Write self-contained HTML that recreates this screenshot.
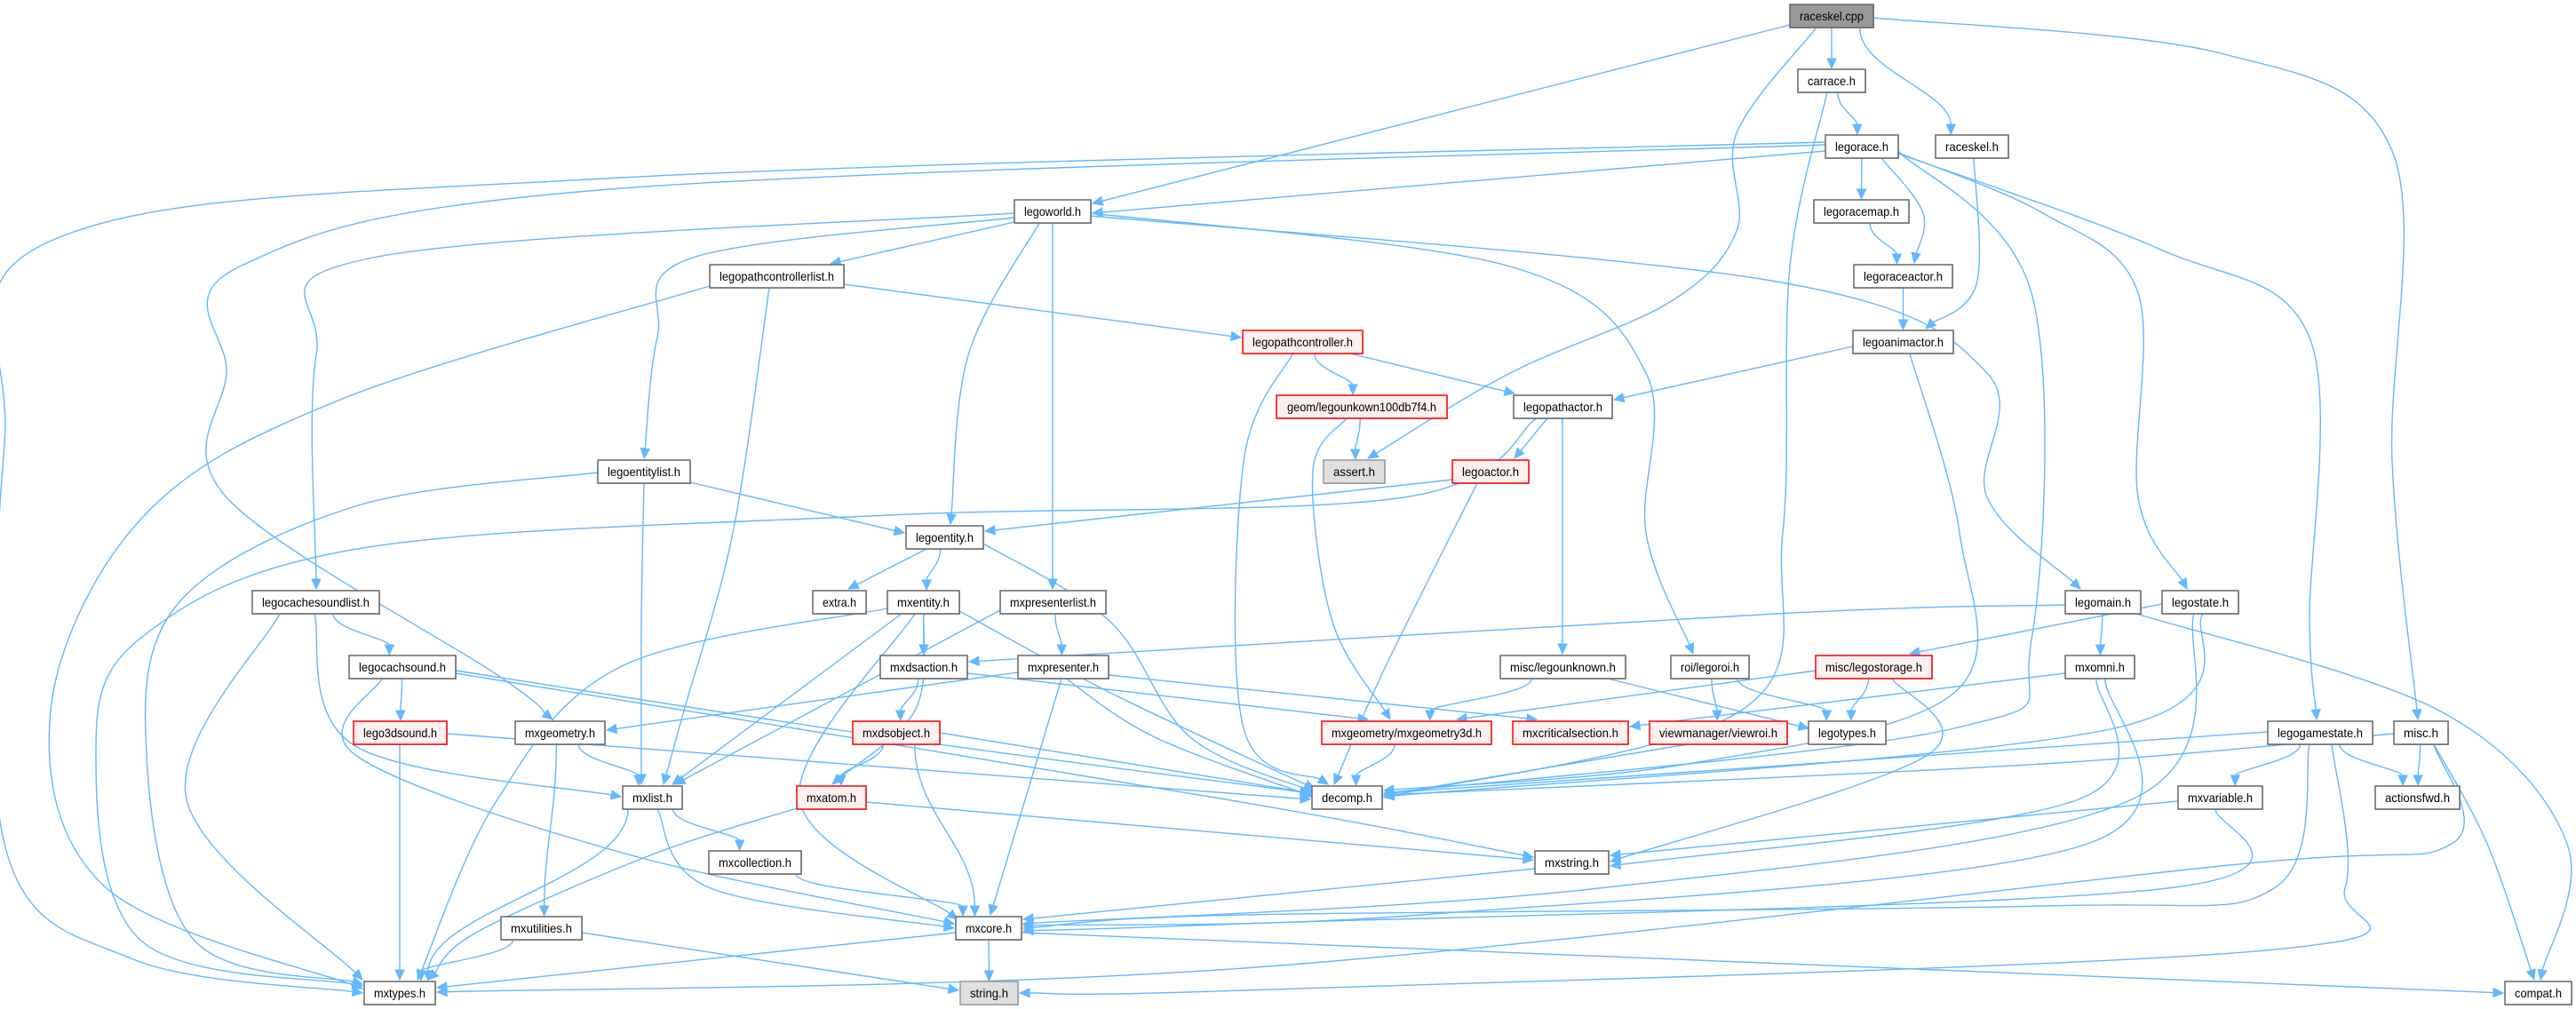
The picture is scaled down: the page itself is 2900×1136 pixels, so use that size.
<!DOCTYPE html>
<html><head><meta charset="utf-8"><style>
html,body{margin:0;padding:0;background:#fff;}
svg{display:block}
text{font-family:"Liberation Sans",Arial,sans-serif;font-size:14px;fill:#000}
</style></head><body>
<svg id="g" width="2900" height="1136" viewBox="0 0 2900 1136" xmlns="http://www.w3.org/2000/svg">
<g id="edges"></g>
<g id="shadows"></g>
<g id="nodes">
<rect x="2015" y="5" width="94" height="26" fill="#999" stroke="#666" stroke-width="1.5"/><text x="2062" y="23" text-anchor="middle" textLength="72" lengthAdjust="spacingAndGlyphs">raceskel.cpp</text>
<rect x="2024" y="78" width="76" height="26" fill="#fff" stroke="#666" stroke-width="1.5"/><text x="2062" y="96" text-anchor="middle" textLength="54" lengthAdjust="spacingAndGlyphs">carrace.h</text>
<rect x="2055" y="152" width="82" height="26" fill="#fff" stroke="#666" stroke-width="1.5"/><text x="2096" y="170" text-anchor="middle" textLength="60" lengthAdjust="spacingAndGlyphs">legorace.h</text>
<rect x="2179" y="152" width="82" height="26" fill="#fff" stroke="#666" stroke-width="1.5"/><text x="2220" y="170" text-anchor="middle" textLength="60" lengthAdjust="spacingAndGlyphs">raceskel.h</text>
<rect x="1142" y="225" width="86" height="26" fill="#fff" stroke="#666" stroke-width="1.5"/><text x="1185" y="243" text-anchor="middle" textLength="64" lengthAdjust="spacingAndGlyphs">legoworld.h</text>
<rect x="2042" y="225" width="107" height="26" fill="#fff" stroke="#666" stroke-width="1.5"/><text x="2095.5" y="243" text-anchor="middle" textLength="85" lengthAdjust="spacingAndGlyphs">legoracemap.h</text>
<rect x="799" y="298" width="151" height="26" fill="#fff" stroke="#666" stroke-width="1.5"/><text x="874.5" y="316" text-anchor="middle" textLength="129" lengthAdjust="spacingAndGlyphs">legopathcontrollerlist.h</text>
<rect x="2087" y="298" width="111" height="26" fill="#fff" stroke="#666" stroke-width="1.5"/><text x="2142.5" y="316" text-anchor="middle" textLength="89" lengthAdjust="spacingAndGlyphs">legoraceactor.h</text>
<rect x="1399" y="372" width="135" height="26" fill="#fff0f0" stroke="#f00" stroke-width="1.5"/><text x="1466.5" y="390" text-anchor="middle" textLength="113" lengthAdjust="spacingAndGlyphs">legopathcontroller.h</text>
<rect x="2086" y="372" width="113" height="26" fill="#fff" stroke="#666" stroke-width="1.5"/><text x="2142.5" y="390" text-anchor="middle" textLength="91" lengthAdjust="spacingAndGlyphs">legoanimactor.h</text>
<rect x="1437" y="445" width="192" height="26" fill="#fff0f0" stroke="#f00" stroke-width="1.5"/><text x="1533" y="463" text-anchor="middle" textLength="168" lengthAdjust="spacingAndGlyphs">geom/legounkown100db7f4.h</text>
<rect x="1704" y="445" width="111" height="26" fill="#fff" stroke="#666" stroke-width="1.5"/><text x="1759.5" y="463" text-anchor="middle" textLength="89" lengthAdjust="spacingAndGlyphs">legopathactor.h</text>
<rect x="673" y="518" width="104" height="26" fill="#fff" stroke="#666" stroke-width="1.5"/><text x="725" y="536" text-anchor="middle" textLength="82" lengthAdjust="spacingAndGlyphs">legoentitylist.h</text>
<rect x="1490" y="518" width="69" height="26" fill="#e0e0e0" stroke="#999" stroke-width="1.5"/><text x="1524.5" y="536" text-anchor="middle" textLength="47" lengthAdjust="spacingAndGlyphs">assert.h</text>
<rect x="1635" y="518" width="86" height="26" fill="#fff0f0" stroke="#f00" stroke-width="1.5"/><text x="1678" y="536" text-anchor="middle" textLength="64" lengthAdjust="spacingAndGlyphs">legoactor.h</text>
<rect x="1020" y="592" width="87" height="26" fill="#fff" stroke="#666" stroke-width="1.5"/><text x="1063.5" y="610" text-anchor="middle" textLength="65" lengthAdjust="spacingAndGlyphs">legoentity.h</text>
<rect x="284" y="665" width="143" height="26" fill="#fff" stroke="#666" stroke-width="1.5"/><text x="355.5" y="683" text-anchor="middle" textLength="121" lengthAdjust="spacingAndGlyphs">legocachesoundlist.h</text>
<rect x="915" y="665" width="60" height="26" fill="#fff" stroke="#666" stroke-width="1.5"/><text x="945" y="683" text-anchor="middle" textLength="38" lengthAdjust="spacingAndGlyphs">extra.h</text>
<rect x="999" y="665" width="81" height="26" fill="#fff" stroke="#666" stroke-width="1.5"/><text x="1039.5" y="683" text-anchor="middle" textLength="59" lengthAdjust="spacingAndGlyphs">mxentity.h</text>
<rect x="1126" y="665" width="119" height="26" fill="#fff" stroke="#666" stroke-width="1.5"/><text x="1185.5" y="683" text-anchor="middle" textLength="97" lengthAdjust="spacingAndGlyphs">mxpresenterlist.h</text>
<rect x="2325" y="665" width="85" height="26" fill="#fff" stroke="#666" stroke-width="1.5"/><text x="2367.5" y="683" text-anchor="middle" textLength="63" lengthAdjust="spacingAndGlyphs">legomain.h</text>
<rect x="2434" y="665" width="86" height="26" fill="#fff" stroke="#666" stroke-width="1.5"/><text x="2477" y="683" text-anchor="middle" textLength="64" lengthAdjust="spacingAndGlyphs">legostate.h</text>
<rect x="393" y="738" width="120" height="26" fill="#fff" stroke="#666" stroke-width="1.5"/><text x="453" y="756" text-anchor="middle" textLength="98" lengthAdjust="spacingAndGlyphs">legocachsound.h</text>
<rect x="991" y="738" width="98" height="26" fill="#fff" stroke="#666" stroke-width="1.5"/><text x="1040" y="756" text-anchor="middle" textLength="76" lengthAdjust="spacingAndGlyphs">mxdsaction.h</text>
<rect x="1146" y="738" width="102" height="26" fill="#fff" stroke="#666" stroke-width="1.5"/><text x="1197" y="756" text-anchor="middle" textLength="80" lengthAdjust="spacingAndGlyphs">mxpresenter.h</text>
<rect x="1689" y="738" width="141" height="26" fill="#fff" stroke="#666" stroke-width="1.5"/><text x="1759.5" y="756" text-anchor="middle" textLength="119" lengthAdjust="spacingAndGlyphs">misc/legounknown.h</text>
<rect x="1881" y="738" width="88" height="26" fill="#fff" stroke="#666" stroke-width="1.5"/><text x="1925" y="756" text-anchor="middle" textLength="66" lengthAdjust="spacingAndGlyphs">roi/legoroi.h</text>
<rect x="2044" y="738" width="131" height="26" fill="#fff0f0" stroke="#f00" stroke-width="1.5"/><text x="2109.5" y="756" text-anchor="middle" textLength="109" lengthAdjust="spacingAndGlyphs">misc/legostorage.h</text>
<rect x="2325" y="738" width="78" height="26" fill="#fff" stroke="#666" stroke-width="1.5"/><text x="2364" y="756" text-anchor="middle" textLength="56" lengthAdjust="spacingAndGlyphs">mxomni.h</text>
<rect x="398" y="812" width="105" height="26" fill="#fff0f0" stroke="#f00" stroke-width="1.5"/><text x="450.5" y="830" text-anchor="middle" textLength="83" lengthAdjust="spacingAndGlyphs">lego3dsound.h</text>
<rect x="580" y="812" width="101" height="26" fill="#fff" stroke="#666" stroke-width="1.5"/><text x="630.5" y="830" text-anchor="middle" textLength="79" lengthAdjust="spacingAndGlyphs">mxgeometry.h</text>
<rect x="960" y="812" width="98" height="26" fill="#fff0f0" stroke="#f00" stroke-width="1.5"/><text x="1009" y="830" text-anchor="middle" textLength="76" lengthAdjust="spacingAndGlyphs">mxdsobject.h</text>
<rect x="1488" y="812" width="191" height="26" fill="#fff0f0" stroke="#f00" stroke-width="1.5"/><text x="1583.5" y="830" text-anchor="middle" textLength="169" lengthAdjust="spacingAndGlyphs">mxgeometry/mxgeometry3d.h</text>
<rect x="1703" y="812" width="130" height="26" fill="#fff0f0" stroke="#f00" stroke-width="1.5"/><text x="1768" y="830" text-anchor="middle" textLength="108" lengthAdjust="spacingAndGlyphs">mxcriticalsection.h</text>
<rect x="1857" y="812" width="155" height="26" fill="#fff0f0" stroke="#f00" stroke-width="1.5"/><text x="1934.5" y="830" text-anchor="middle" textLength="133" lengthAdjust="spacingAndGlyphs">viewmanager/viewroi.h</text>
<rect x="2036" y="812" width="87" height="26" fill="#fff" stroke="#666" stroke-width="1.5"/><text x="2079.5" y="830" text-anchor="middle" textLength="65" lengthAdjust="spacingAndGlyphs">legotypes.h</text>
<rect x="2553" y="812" width="118" height="26" fill="#fff" stroke="#666" stroke-width="1.5"/><text x="2612" y="830" text-anchor="middle" textLength="96" lengthAdjust="spacingAndGlyphs">legogamestate.h</text>
<rect x="2695" y="812" width="61" height="26" fill="#fff" stroke="#666" stroke-width="1.5"/><text x="2725.5" y="830" text-anchor="middle" textLength="39" lengthAdjust="spacingAndGlyphs">misc.h</text>
<rect x="701" y="885" width="67" height="26" fill="#fff" stroke="#666" stroke-width="1.5"/><text x="734.5" y="903" text-anchor="middle" textLength="45" lengthAdjust="spacingAndGlyphs">mxlist.h</text>
<rect x="897" y="885" width="78" height="26" fill="#fff0f0" stroke="#f00" stroke-width="1.5"/><text x="936" y="903" text-anchor="middle" textLength="56" lengthAdjust="spacingAndGlyphs">mxatom.h</text>
<rect x="1477" y="885" width="79" height="26" fill="#fff" stroke="#666" stroke-width="1.5"/><text x="1516.5" y="903" text-anchor="middle" textLength="57" lengthAdjust="spacingAndGlyphs">decomp.h</text>
<rect x="2452" y="885" width="95" height="26" fill="#fff" stroke="#666" stroke-width="1.5"/><text x="2499.5" y="903" text-anchor="middle" textLength="73" lengthAdjust="spacingAndGlyphs">mxvariable.h</text>
<rect x="2674" y="885" width="95" height="26" fill="#fff" stroke="#666" stroke-width="1.5"/><text x="2721.5" y="903" text-anchor="middle" textLength="73" lengthAdjust="spacingAndGlyphs">actionsfwd.h</text>
<rect x="798" y="958" width="104" height="26" fill="#fff" stroke="#666" stroke-width="1.5"/><text x="850" y="976" text-anchor="middle" textLength="82" lengthAdjust="spacingAndGlyphs">mxcollection.h</text>
<rect x="1728" y="958" width="83" height="26" fill="#fff" stroke="#666" stroke-width="1.5"/><text x="1769.5" y="976" text-anchor="middle" textLength="61" lengthAdjust="spacingAndGlyphs">mxstring.h</text>
<rect x="564" y="1032" width="91" height="26" fill="#fff" stroke="#666" stroke-width="1.5"/><text x="609.5" y="1050" text-anchor="middle" textLength="69" lengthAdjust="spacingAndGlyphs">mxutilities.h</text>
<rect x="1076" y="1032" width="74" height="26" fill="#fff" stroke="#666" stroke-width="1.5"/><text x="1113" y="1050" text-anchor="middle" textLength="52" lengthAdjust="spacingAndGlyphs">mxcore.h</text>
<rect x="410" y="1105" width="80" height="26" fill="#fff" stroke="#666" stroke-width="1.5"/><text x="450" y="1123" text-anchor="middle" textLength="58" lengthAdjust="spacingAndGlyphs">mxtypes.h</text>
<rect x="1081" y="1105" width="65" height="26" fill="#e0e0e0" stroke="#999" stroke-width="1.5"/><text x="1113.5" y="1123" text-anchor="middle" textLength="43" lengthAdjust="spacingAndGlyphs">string.h</text>
<rect x="2820" y="1105" width="75" height="26" fill="#fff" stroke="#666" stroke-width="1.5"/><text x="2857.5" y="1123" text-anchor="middle" textLength="53" lengthAdjust="spacingAndGlyphs">compat.h</text>
</g>
</svg>
<script>
(function(){
var N={
"raceskel.cpp":[2015,2109,5],"carrace.h":[2024,2100,78],"legorace.h":[2055,2137,152],"raceskel.h":[2179,2261,152],
"legoworld.h":[1142,1228,225],"legoracemap.h":[2042,2149,225],"legopathcontrollerlist.h":[799,950,298],"legoraceactor.h":[2087,2198,298],
"legopathcontroller.h":[1399,1534,372],"legoanimactor.h":[2086,2199,372],"geom":[1437,1629,445],"legopathactor.h":[1704,1815,445],
"legoentitylist.h":[673,777,518],"assert.h":[1490,1559,518],"legoactor.h":[1635,1721,518],"legoentity.h":[1020,1107,592],
"legocachesoundlist.h":[284,427,665],"extra.h":[915,975,665],"mxentity.h":[999,1080,665],"mxpresenterlist.h":[1126,1245,665],
"legomain.h":[2325,2410,665],"legostate.h":[2434,2520,665],"legocachsound.h":[393,513,738],"mxdsaction.h":[991,1089,738],
"mxpresenter.h":[1146,1248,738],"legounknown":[1689,1830,738],"legoroi":[1881,1969,738],"legostorage":[2044,2175,738],
"mxomni.h":[2325,2403,738],"lego3dsound.h":[398,503,812],"mxgeometry.h":[580,681,812],"mxdsobject.h":[960,1058,812],
"mxgeometry3d":[1488,1679,812],"mxcriticalsection.h":[1703,1833,812],"viewroi":[1857,2012,812],"legotypes.h":[2036,2123,812],
"legogamestate.h":[2553,2671,812],"misc.h":[2695,2756,812],"mxlist.h":[701,768,885],"mxatom.h":[897,975,885],
"decomp.h":[1477,1556,885],"mxvariable.h":[2452,2547,885],"actionsfwd.h":[2674,2769,885],"mxcollection.h":[798,902,958],
"mxstring.h":[1728,1811,958],"mxutilities.h":[564,655,1032],"mxcore.h":[1076,1150,1032],"mxtypes.h":[410,490,1105],
"string.h":[1081,1146,1105],"compat.h":[2820,2895,1105]};
var E=[
["raceskel.cpp","legoworld.h",[[2015,28],[1230,229]]],
["raceskel.cpp","assert.h",[[2045,31],[1955,150],[1955,260],[1880,340],[1700,420],[1540,516]]],
["raceskel.cpp","carrace.h"],["raceskel.cpp","raceskel.h"],
["raceskel.cpp","misc.h",[[2109,20],[2500,60],[2693,170],[2693,520],[2722,810]]],
["carrace.h","legorace.h"],
["carrace.h","decomp.h",[[2057,104],[2015,300],[2007,600],[1960,800],[1558,898]]],
["raceskel.h","legoanimactor.h",[[2222,178],[2225,320],[2168,370]]],
["legorace.h","legoworld.h",[[2055,170],[1230,240]]],
["legorace.h","legoracemap.h"],
["legorace.h","legoraceactor.h",[[2118,178],[2165,240],[2155,296]]],
["legoracemap.h","legoraceactor.h"],["legoraceactor.h","legoanimactor.h"],
["legorace.h","mxtypes.h",[[2055,160],[700,200],[60,270],[5,500],[5,950],[150,1080],[408,1118]]],
["legorace.h","mxgeometry.h",[[2055,163],[700,212],[270,300],[255,420],[255,560],[560,760],[622,810]]],
["legorace.h","decomp.h",[[2137,170],[2287,330],[2287,720],[2200,820],[1558,893]]],
["legorace.h","legostate.h",[[2137,172],[2300,240],[2407,330],[2407,560],[2462,663]]],
["legorace.h","legogamestate.h",[[2137,173],[2430,280],[2600,380],[2600,700],[2608,810]]],
["legoanimactor.h","legopathactor.h",[[2086,390],[1817,450]]],
["legoanimactor.h","decomp.h",[[2150,398],[2206,600],[2200,780],[1900,860],[1558,890]]],
["legoworld.h","legopathcontrollerlist.h",[[1142,250],[935,297]]],
["legoworld.h","legocachesoundlist.h",[[1142,240],[420,290],[356,400],[356,663]]],
["legoworld.h","legoentitylist.h",[[1142,245],[780,290],[740,380],[725,516]]],
["legoworld.h","legoentity.h",[[1170,251],[1090,400],[1070,590]]],
["legoworld.h","mxpresenterlist.h",[[1185,251],[1185,663]]],
["legoworld.h","legoroi",[[1228,240],[1700,300],[1853,420],[1853,600],[1906,736]]],
["legoworld.h","legomain.h",[[1228,243],[2000,317],[2237,420],[2237,560],[2342,663]]],
["legopathcontrollerlist.h","legopathcontroller.h",[[950,320],[1397,380]]],
["legopathcontrollerlist.h","mxlist.h",[[866,324],[825,600],[770,800],[747,883]]],
["legopathcontrollerlist.h","mxtypes.h",[[799,322],[383,450],[160,583],[57,800],[120,1000],[408,1113]]],
["legopathcontroller.h","geom"],
["legopathcontroller.h","legopathactor.h",[[1516,397],[1705,443]]],
["legopathcontroller.h","decomp.h",[[1456,397],[1400,520],[1400,820],[1495,883]]],
["geom","assert.h"],
["geom","mxgeometry3d",[[1516,471],[1478,530],[1500,700],[1565,810]]],
["legopathactor.h","legoactor.h",[[1742,471],[1705,516]]],
["legopathactor.h","legounknown",[[1759,471],[1759,736]]],
["legopathactor.h","mxtypes.h",[[1730,471],[1580,560],[1000,580],[408,617],[160,717],[108,850],[160,1060],[408,1110]]],
["legoactor.h","legoentity.h",[[1635,540],[1109,598]]],
["legoactor.h","decomp.h",[[1663,544],[1560,750],[1502,883]]],
["legoentitylist.h","legoentity.h",[[777,543],[1018,600]]],
["legoentitylist.h","mxlist.h",[[725,544],[722,700],[722,883]]],
["legoentitylist.h","mxtypes.h",[[673,532],[400,570],[200,680],[165,850],[220,1060],[408,1108]]],
["legoentity.h","extra.h",[[1043,618],[955,663]]],
["legoentity.h","mxentity.h"],
["legoentity.h","decomp.h",[[1107,612],[1250,700],[1340,830],[1478,892]]],
["legocachesoundlist.h","legocachsound.h"],
["legocachesoundlist.h","mxtypes.h",[[315,691],[210,900],[408,1103]]],
["legocachesoundlist.h","mxlist.h",[[354,691],[400,840],[699,897]]],
["legocachsound.h","lego3dsound.h"],
["legocachsound.h","mxcore.h",[[430,764],[400,850],[700,960],[1074,1040]]],
["legocachsound.h","decomp.h",[[513,755],[1000,830],[1475,893]]],
["legocachsound.h","mxstring.h",[[513,758],[1380,900],[1726,965]]],
["lego3dsound.h","mxtypes.h",[[450,838],[450,1103]]],
["lego3dsound.h","decomp.h",[[503,826],[1475,900]]],
["mxentity.h","mxdsaction.h"],
["mxentity.h","mxatom.h",[[1040,691],[1030,800],[937,883]]],
["mxentity.h","mxcore.h",[[1030,691],[900,900],[1078,1035]]],
["mxentity.h","mxlist.h",[[1015,691],[757,883]]],
["mxentity.h","decomp.h",[[1080,688],[1250,780],[1480,888]]],
["mxentity.h","mxtypes.h",[[999,685],[700,750],[560,900],[470,1103]]],
["mxdsaction.h","mxdsobject.h"],
["mxdsaction.h","mxgeometry3d",[[1089,758],[1540,810]]],
["mxpresenterlist.h","mxpresenter.h"],
["mxpresenterlist.h","mxlist.h",[[1126,687],[760,883]]],
["mxpresenter.h","mxgeometry.h",[[1146,757],[683,822]]],
["mxpresenter.h","decomp.h",[[1200,764],[1300,830],[1478,897]]],
["mxpresenter.h","mxcore.h",[[1195,764],[1115,1030]]],
["mxpresenter.h","mxcriticalsection.h",[[1248,760],[1730,810]]],
["legomain.h","mxdsaction.h",[[2325,681],[2000,691],[1091,745]]],
["legomain.h","mxomni.h"],
["legomain.h","compat.h",[[2405,691],[2746,800],[2890,950],[2860,1103]]],
["legostate.h","legostorage",[[2434,680],[2150,736]]],
["legostate.h","decomp.h",[[2480,691],[2380,820],[1558,897]]],
["legostate.h","mxcore.h",[[2470,691],[2400,900],[1800,1000],[1152,1040]]],
["legostorage","legotypes.h"],
["legostorage","mxgeometry3d",[[2044,755],[1640,810]]],
["legostorage","mxstring.h",[[2130,764],[2170,850],[1813,970]]],
["mxomni.h","mxcriticalsection.h",[[2325,758],[1835,818]]],
["mxomni.h","mxstring.h",[[2360,764],[2340,900],[1813,975]]],
["mxomni.h","mxcore.h",[[2370,764],[2350,950],[1600,1030],[1152,1042]]],
["legounknown","mxgeometry3d"],
["legounknown","legotypes.h",[[1810,764],[2036,820]]],
["legoroi","viewroi"],["legoroi","legotypes.h"],
["viewroi","decomp.h",[[1900,838],[1558,895]]],
["mxgeometry3d","decomp.h"],
["mxgeometry.h","mxlist.h"],["mxgeometry.h","mxutilities.h"],
["mxdsobject.h","mxatom.h"],["mxdsobject.h","mxcore.h"],
["mxdsobject.h","decomp.h",[[1058,825],[1476,893]]],
["mxlist.h","mxtypes.h"],["mxlist.h","mxcollection.h"],
["mxlist.h","mxcore.h",[[740,911],[800,1000],[1074,1045]]],
["mxatom.h","mxtypes.h",[[897,910],[732,963],[536,1050],[482,1103]]],
["mxatom.h","mxstring.h",[[975,903],[1726,968]]],
["mxcollection.h","mxcore.h"],
["mxutilities.h","mxtypes.h"],
["mxutilities.h","string.h",[[655,1050],[1079,1115]]],
["mxcore.h","mxtypes.h",[[1076,1050],[492,1112]]],
["mxcore.h","string.h"],
["mxcore.h","compat.h",[[1150,1050],[2818,1118]]],
["mxstring.h","mxcore.h",[[1728,978],[1152,1035]]],
["legogamestate.h","decomp.h",[[2553,824],[1558,893]]],
["legogamestate.h","mxvariable.h"],["legogamestate.h","actionsfwd.h"],
["legogamestate.h","string.h",[[2625,838],[2640,1000],[2550,1070],[1400,1115],[1148,1118]]],
["legogamestate.h","mxcore.h",[[2600,838],[2560,1000],[2300,1020],[1400,1030],[1152,1045]]],
["misc.h","decomp.h",[[2695,826],[2300,860],[1558,895]]],
["misc.h","actionsfwd.h"],
["misc.h","compat.h",[[2740,838],[2800,950],[2853,1103]]],
["misc.h","mxtypes.h",[[2740,838],[2760,950],[2500,975],[1400,1090],[492,1117]]],
["mxvariable.h","mxstring.h",[[2452,902],[1813,963]]],
["mxvariable.h","mxcore.h",[[2495,911],[2440,1000],[1400,1040],[1152,1048]]]
];
function cl(v,m){return Math.max(-m,Math.min(m,v));}
var out="";var C="#63b8ff";
E.forEach(function(e){
 var a=N[e[0]],b=N[e[1]],pts;
 var acx=(a[0]+a[1])/2,bcx=(b[0]+b[1])/2;
 var d,ex,ey,dx,dy;
 if(e[2]){
  pts=e[2].map(function(p){return p.slice();});
  var n=pts.length;
  ex=pts[n-1][0];ey=pts[n-1][1];
  var segs=[];
  for(var i=0;i<n-1;i++){
   var p0=pts[i-1]||pts[i],p1=pts[i],p2=pts[i+1],p3=pts[i+2]||p2;
   segs.push([p1,[p1[0]+(p2[0]-p0[0])/6,p1[1]+(p2[1]-p0[1])/6],[p2[0]-(p3[0]-p1[0])/6,p2[1]-(p3[1]-p1[1])/6],p2]);
  }
  var last=segs[segs.length-1];
  dx=ex-last[2][0];dy=ey-last[2][1];
  if(Math.abs(dx)+Math.abs(dy)<0.01){dx=ex-last[0][0];dy=ey-last[0][1];}
  var L=Math.sqrt(dx*dx+dy*dy);dx/=L;dy/=L;
  var tx=ex-dx*10,ty=ey-dy*10;
  last[3]=[tx,ty];
  last[2]=[last[2][0]-dx*5,last[2][1]-dy*5];
  d="M"+segs[0][0][0]+","+segs[0][0][1];
  segs.forEach(function(s){d+=" C"+s[1][0]+","+s[1][1]+" "+s[2][0]+","+s[2][1]+" "+s[3][0]+","+s[3][1];});
 }else{
  var sx=acx+cl((bcx-acx)*0.2,(a[1]-a[0])/2-6),sy=a[2]+26;
  ex=bcx+cl((acx-bcx)*0.15,(b[1]-b[0])/2-8);ey=b[2]-1;
  var k=Math.max(15,(ey-sy)*0.4);
  var c1=[sx,sy+k],c2=[ex,ey-k];
  dx=ex-c2[0];dy=ey-c2[1];var L2=Math.sqrt(dx*dx+dy*dy);dx/=L2;dy/=L2;
  var tx2=ex-dx*10,ty2=ey-dy*10;
  d="M"+sx+","+sy+" C"+c1[0]+","+c1[1]+" "+c2[0]+","+(c2[1])+" "+tx2+","+ty2;
 }
 var px=-dy,py=dx;
 var bx=ex-dx*11,by=ey-dy*11;
 out+='<path d="'+d+'" fill="none" stroke="'+C+'" stroke-width="1.4"/>';
 out+='<polygon points="'+ex+','+ey+' '+(bx+px*5)+','+(by+py*5)+' '+(bx-px*5)+','+(by-py*5)+'" fill="'+C+'" stroke="'+C+'"/>';
});
document.getElementById("edges").innerHTML=out;
var sh="";
for(var k in N){var n=N[k];sh+='<rect x="'+(n[0]+1)+'" y="'+(n[2]+1)+'" width="'+(n[1]-n[0])+'" height="26" fill="#999" opacity="0.6"/>';}
document.getElementById("shadows").innerHTML=sh;
})();
</script>
</body></html>
